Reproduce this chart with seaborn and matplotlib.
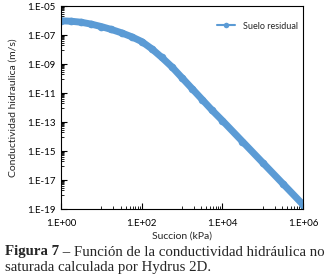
"""
Unsaturated hydraulic conductivity curve (Hydrus 2D) for residual soil
"""

import numpy as np
import pandas as pd
import matplotlib
matplotlib.use('Agg')
import matplotlib.pyplot as plt
import seaborn as sns
from matplotlib.ticker import FixedLocator, NullFormatter

# values (log10 of suction in kPa, log10 of K in m/s)
log_suction = [0.0, 0.25, 0.5, 0.75, 1.0, 1.25, 1.5, 1.75, 2.0, 2.25, 2.5,
               2.75, 3.0, 3.25, 3.5, 3.75, 4.0, 4.5, 5.0, 5.5, 6.0]
log_k = [-6.02, -6.05, -6.12, -6.25, -6.42, -6.62, -6.85, -7.12, -7.45, -7.95,
         -8.55, -9.2, -9.95, -10.7, -11.45, -12.2, -12.9, -14.35, -15.8, -17.25, -18.7]

x_ticks = [1e0, 1e2, 1e4, 1e6]
x_labels = ['1.E+00', '1.E+02', '1.E+04', '1.E+06']
y_ticks = [1e-19, 1e-17, 1e-15, 1e-13, 1e-11, 1e-09, 1e-07, 1e-05]
y_labels = ['1.E-19', '1.E-17', '1.E-15', '1.E-13', '1.E-11', '1.E-09', '1.E-07', '1.E-05']

series_name = 'Suelo residual'
line_color = '#5B9BD5'

df = pd.DataFrame({'Succion': 10 ** np.array(log_suction),
                   'K': 10 ** np.array(log_k),
                   'serie': series_name})

sns.set_style('white')
plt.rcParams['font.family'] = ['Lato', 'DejaVu Sans']

fig = plt.figure(figsize=(3.26, 2.78), dpi=100)
ax = fig.add_axes([61 / 326, 1 - 209 / 278, 242 / 326, 203 / 278])

sns.lineplot(data=df, x='Succion', y='K', hue='serie', palette=[line_color],
             marker='o', markersize=5.5, markeredgewidth=0, linewidth=5, ax=ax)
ax.set_xscale('log')
ax.set_yscale('log')
ax.set_xlim(1e0, 1e6)
ax.set_ylim(1e-19, 1e-5)

ax.xaxis.set_major_locator(FixedLocator(x_ticks))
ax.set_xticklabels(x_labels)
ax.yaxis.set_major_locator(FixedLocator(y_ticks))
ax.set_yticklabels(y_labels)

# minor ticks as in Excel: k * 10^(odd) for k = 1..9
x_minor = [k * 10.0 ** e for e in (1, 3, 5) for k in range(1, 10)]
y_minor = [k * 10.0 ** e for e in (-18, -16, -14, -12, -10, -8, -6) for k in range(1, 10)]
ax.xaxis.set_minor_locator(FixedLocator(x_minor))
ax.yaxis.set_minor_locator(FixedLocator(y_minor))
ax.xaxis.set_minor_formatter(NullFormatter())
ax.yaxis.set_minor_formatter(NullFormatter())

ax.tick_params(axis='both', which='major', direction='in', length=4, width=0.8,
               labelsize=7, colors='black')
ax.tick_params(axis='x', which='major', pad=7.5)
ax.tick_params(axis='y', which='major', pad=4)
ax.tick_params(axis='both', which='minor', direction='in', length=2.5, width=0.6,
               colors='black')
ax.tick_params(axis='x', which='both', bottom=True)
ax.tick_params(axis='y', which='both', left=True)

for sp in ax.spines.values():
    sp.set_color('black')
    sp.set_linewidth(0.8)

ax.set_xlabel('Succion (kPa)', fontsize=7.5, labelpad=2.5)
ax.set_ylabel('Conductividad hidraulica (m/s)', fontsize=7.5, labelpad=7)

leg = ax.legend(loc='upper right', frameon=False, fontsize=6.5, handlelength=2.0,
                bbox_to_anchor=(1.0, 0.95), borderaxespad=0.2)
for h in leg.get_lines():
    h.set_linewidth(1.5)
    h.set_markersize(4)

cap_size = 10.7
cap_bold = fig.text(5 / 326, 1 - 252 / 278, 'Figura 7', fontsize=cap_size, fontweight='bold',
                    family='Liberation Serif', va='center', ha='left')
fig.canvas.draw()
bb = cap_bold.get_window_extent()
fig.text(bb.x1 / fig.bbox.width, 1 - 252 / 278,
         ' – Función de la conductividad hidráulica no', fontsize=cap_size,
         family='Liberation Serif', va='center', ha='left')
fig.text(5 / 326, 1 - 268 / 278, 'saturada calculada por Hydrus 2D.', fontsize=cap_size,
         family='Liberation Serif', va='center', ha='left')

fig.savefig('out.png', dpi=100)
